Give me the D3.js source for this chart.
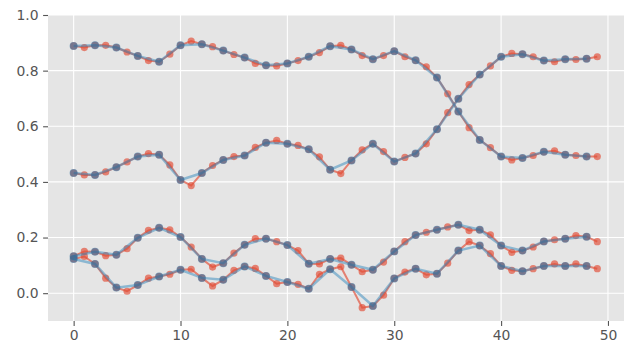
<!DOCTYPE html>
<html lang="en">
<head>
    <meta charset="UTF-8">
    <title>Downsampled series</title>
    <style>
        body {
            margin: 0;
            padding: 0;
            background-color: #ffffff;
        }
        svg text {
            font-family: "DejaVu Sans", sans-serif;
            font-size: 13.9px;
            fill: #555555;
        }
    </style>
    <script src="https://d3js.org/d3.v7.min.js"></script>
</head>
<body>
    <svg id="chart" width="640" height="360"></svg>

    <script>
        const width = 640;
        const height = 360;

        // values, one per x = 0..49
        const seriesA = [0.889, 0.883, 0.891, 0.891, 0.883, 0.867, 0.853, 0.836, 0.832, 0.859,
                         0.891, 0.906, 0.895, 0.886, 0.872, 0.858, 0.847, 0.826, 0.819, 0.817,
                         0.826, 0.836, 0.850, 0.865, 0.888, 0.891, 0.876, 0.854, 0.841, 0.854,
                         0.870, 0.850, 0.837, 0.814, 0.775, 0.717, 0.653, 0.595, 0.551, 0.523,
                         0.491, 0.479, 0.486, 0.495, 0.508, 0.512, 0.498, 0.495, 0.491, 0.491];
        const seriesB = [0.432, 0.425, 0.425, 0.436, 0.453, 0.472, 0.491, 0.502, 0.498, 0.461,
                         0.407, 0.387, 0.432, 0.459, 0.479, 0.491, 0.495, 0.524, 0.541, 0.549,
                         0.537, 0.531, 0.517, 0.490, 0.444, 0.430, 0.477, 0.515, 0.537, 0.509,
                         0.473, 0.488, 0.502, 0.537, 0.589, 0.649, 0.699, 0.750, 0.786, 0.817,
                         0.850, 0.862, 0.859, 0.850, 0.836, 0.832, 0.841, 0.840, 0.843, 0.850];
        const seriesC = [0.133, 0.150, 0.149, 0.135, 0.138, 0.160, 0.199, 0.226, 0.235, 0.228,
                         0.202, 0.166, 0.123, 0.094, 0.108, 0.144, 0.174, 0.196, 0.196, 0.185,
                         0.173, 0.153, 0.106, 0.105, 0.123, 0.126, 0.102, 0.077, 0.084, 0.112,
                         0.150, 0.185, 0.209, 0.219, 0.228, 0.238, 0.246, 0.225, 0.228, 0.210,
                         0.171, 0.147, 0.153, 0.166, 0.186, 0.192, 0.196, 0.207, 0.203, 0.185];
        const seriesD = [0.123, 0.132, 0.105, 0.054, 0.020, 0.007, 0.029, 0.054, 0.060, 0.068,
                         0.084, 0.086, 0.055, 0.026, 0.048, 0.082, 0.096, 0.089, 0.062, 0.034,
                         0.040, 0.032, 0.016, 0.068, 0.086, 0.095, 0.022, -0.052, -0.046, -0.007,
                         0.053, 0.076, 0.088, 0.066, 0.070, 0.108, 0.153, 0.185, 0.171, 0.142,
                         0.098, 0.082, 0.079, 0.088, 0.098, 0.105, 0.098, 0.105, 0.098, 0.088];

        const xTicks = [0, 10, 20, 30, 40, 50];
        const yTicks = [0.0, 0.2, 0.4, 0.6, 0.8, 1.0];

        const allSeries = [seriesA, seriesB, seriesC, seriesD];

        const margin = { top: 15, right: 16, bottom: 39, left: 48 };

        const x = d3.scaleLinear()
            .domain([-2.4, 51.5])
            .range([margin.left, width - margin.right]);
        const y = d3.scaleLinear()
            .domain([-0.1, 1.0])
            .range([height - margin.bottom, margin.top]);

        const svg = d3.select("#chart");

        // grey panel
        svg.append("rect")
            .attr("x", margin.left)
            .attr("y", margin.top)
            .attr("width", width - margin.left - margin.right)
            .attr("height", height - margin.top - margin.bottom)
            .attr("fill", "#E5E5E5");

        // grid
        const grid = svg.append("g")
            .attr("stroke", "#ffffff")
            .attr("stroke-width", 1.1);
        grid.selectAll("line.gx")
            .data(xTicks)
            .enter().append("line")
            .attr("x1", d => x(d)).attr("x2", d => x(d))
            .attr("y1", margin.top).attr("y2", height - margin.bottom);
        grid.selectAll("line.gy")
            .data(yTicks)
            .enter().append("line")
            .attr("y1", d => y(d)).attr("y2", d => y(d))
            .attr("x1", margin.left).attr("x2", width - margin.right);

        // axes
        const xAxis = svg.append("g")
            .attr("transform", `translate(0,${height - margin.bottom})`)
            .call(d3.axisBottom(x).tickValues(xTicks).tickSize(4.9).tickPadding(4.5).tickFormat(d3.format("d")));
        const yAxis = svg.append("g")
            .attr("transform", `translate(${margin.left},0)`)
            .call(d3.axisLeft(y).tickValues(yTicks).tickSize(4.9).tickPadding(4.5).tickFormat(d3.format(".1f")));

        [xAxis, yAxis].forEach(ax => {
            ax.select(".domain").remove();
            ax.selectAll(".tick line").attr("stroke", "#555555").attr("stroke-width", 1.1);
            ax.selectAll(".tick text").attr("fill", "#555555").style("font-size", "13.9px");
        });

        const line = d3.line()
            .x(d => x(d.x))
            .y(d => y(d.y));

        const full = allSeries.map(s => s.map((v, i) => ({ x: i, y: v })));
        // every second point of each series
        const thinned = full.map(s => s.filter(d => d.x % 2 === 0));

        const plot = svg.append("g");

        // red: all points
        full.forEach(pts => {
            const g = plot.append("g");
            g.append("path")
                .datum(pts)
                .attr("d", line)
                .attr("fill", "none")
                .attr("stroke", "#E24A33")
                .attr("stroke-opacity", 0.65)
                .attr("stroke-width", 2);
            g.selectAll("circle")
                .data(pts)
                .enter().append("circle")
                .attr("cx", d => x(d.x))
                .attr("cy", d => y(d.y))
                .attr("r", 3.6)
                .attr("fill", "#E24A33")
                .attr("fill-opacity", 0.65);
        });

        // blue: every second point
        thinned.forEach(pts => {
            const g = plot.append("g");
            g.append("path")
                .datum(pts)
                .attr("d", line)
                .attr("fill", "none")
                .attr("stroke", "#348ABD")
                .attr("stroke-opacity", 0.5)
                .attr("stroke-width", 2.5);
            g.selectAll("circle")
                .data(pts)
                .enter().append("circle")
                .attr("cx", d => x(d.x))
                .attr("cy", d => y(d.y))
                .attr("r", 4)
                .attr("fill", "#2F6FA0")
                .attr("fill-opacity", 0.6);
        });
    </script>
</body>
</html>
